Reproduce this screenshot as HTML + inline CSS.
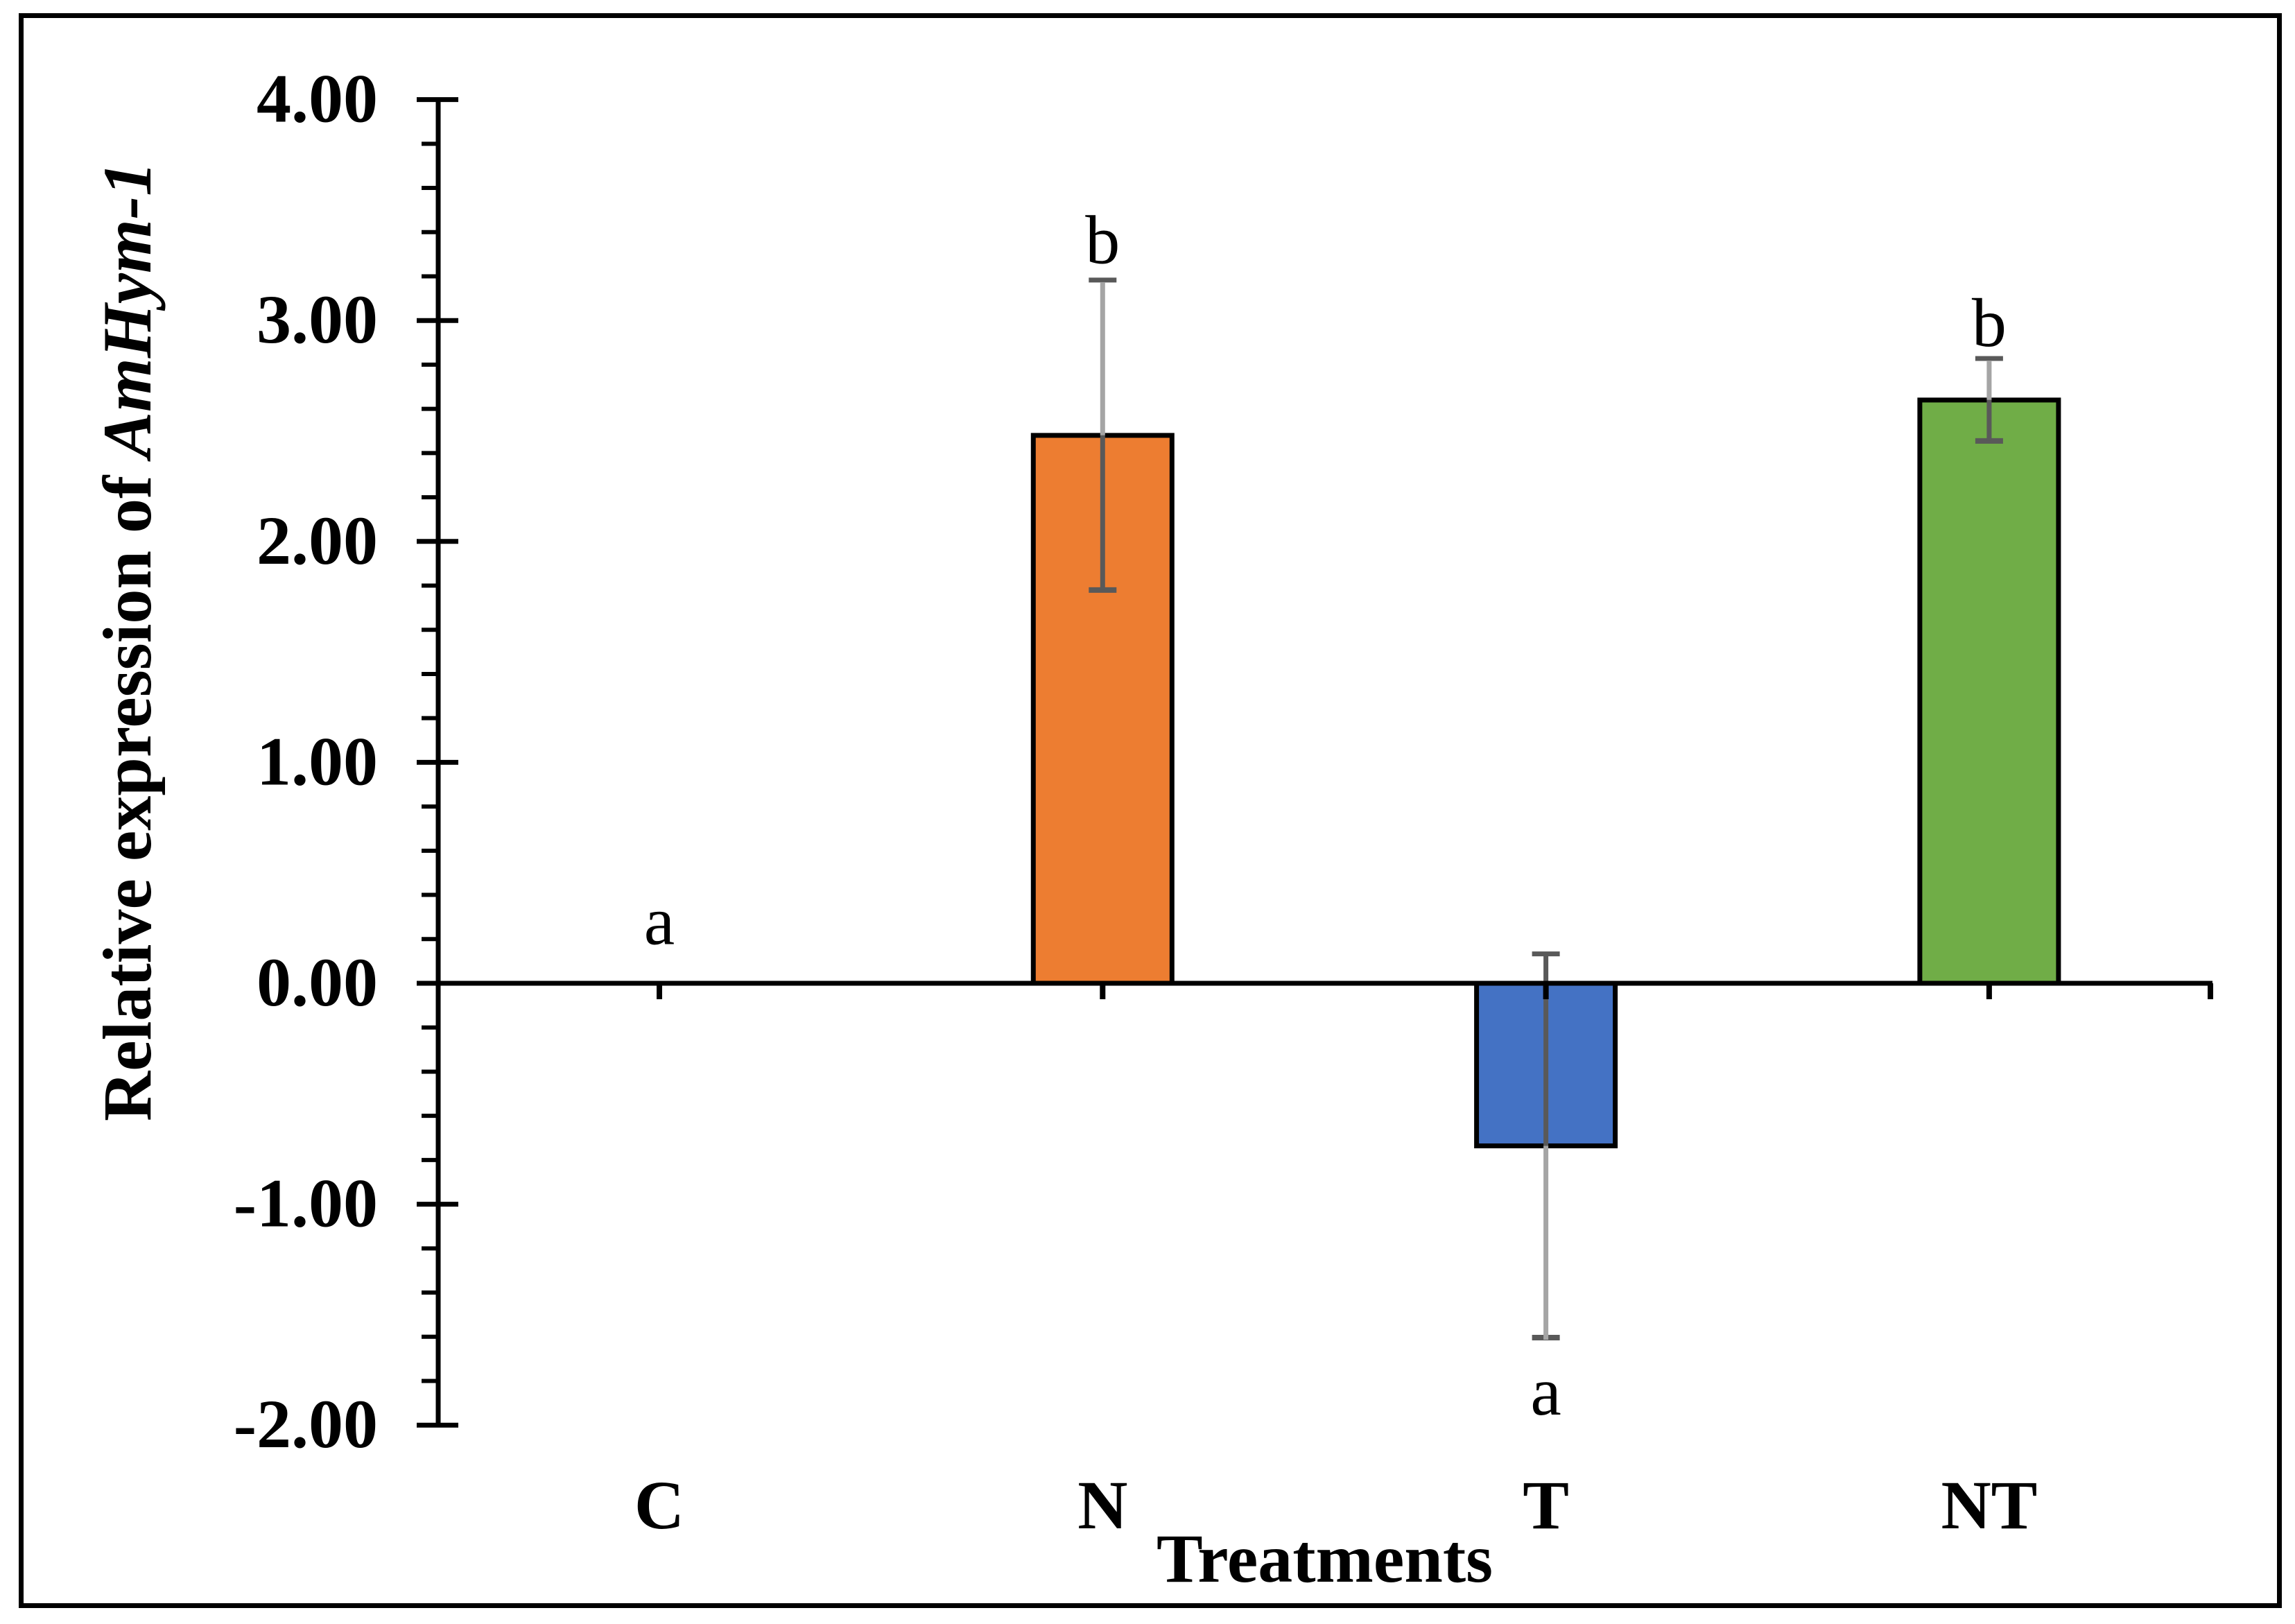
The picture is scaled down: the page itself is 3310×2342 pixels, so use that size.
<!DOCTYPE html>
<html lang="en">
<head>
<meta charset="utf-8">
<title>Relative expression of AmHym-1</title>
<style>
html,body{margin:0;padding:0;background:#fff}
svg{display:block}
text{font-family:"Liberation Serif",serif;font-size:100px;fill:#000}
.b{font-weight:bold}
</style>
</head>
<body>
<svg id="chart" xmlns="http://www.w3.org/2000/svg" width="3310" height="2342" viewBox="0 0 3310 2342">
<rect x="0" y="0" width="3310" height="2342" fill="#ffffff"/>
<rect x="30.5" y="22.5" width="3257" height="2293" fill="none" stroke="#000" stroke-width="7"/>
<g id="bars"></g>
<g id="errors"></g>
<g id="axes"></g>
<g id="labels"></g>
<text class="b" transform="translate(217,1617) rotate(-90)">Relative expression of <tspan font-style="italic">AmHym-1</tspan></text>
<text class="b" x="1668" y="2281">Treatments</text>
</svg>
<script>
const categories = ["C", "N", "T", "NT"];
const values = [0, 2.48, -0.736, 2.64];
const errorHigh = [0, 3.183, 0.133, 2.828];
const errorLow = [0, 1.78, -1.604, 2.455];
const groupLetters = ["a", "b", "a", "b"];
const letterValues = [0.178, 3.26, -1.953, 2.885];
const barColors = ["#ED7D31", "#ED7D31", "#4472C4", "#70AD47"];
const yTickValues = [4, 3, 2, 1, 0, -1, -2];
const yTickLabels = ["4.00", "3.00", "2.00", "1.00", "0.00", "-1.00", "-2.00"];
const yMinorTicks = [3.8, 3.6, 3.4, 3.2, 2.8, 2.6, 2.4, 2.2, 1.8, 1.6, 1.4, 1.2, 0.8, 0.6, 0.4, 0.2, -0.2, -0.4, -0.6, -0.8, -1.2, -1.4, -1.6, -1.8];

const NS = "http://www.w3.org/2000/svg";
function yScale(v) { return 1418 - v * 318.6; }
function xScale(i) { return 951 + i * 639.3; }
function make(tag, parent, attrs, text) {
  const el = document.createElementNS(NS, tag);
  for (const k in attrs) el.setAttribute(k, attrs[k]);
  if (text !== undefined) el.textContent = text;
  parent.appendChild(el);
  return el;
}
const barsG = document.getElementById("bars");
const errG = document.getElementById("errors");
const axesG = document.getElementById("axes");
const labelsG = document.getElementById("labels");
const DARK = "#595959", LIGHT = "#A5A5A5";

categories.forEach(function (cat, i) {
  const cx = xScale(i);
  const top = yScale(Math.max(values[i], 0));
  const bottom = yScale(Math.min(values[i], 0));
  if (values[i] !== 0) {
    const bar = make("rect", barsG, { x: cx - 100, y: top, width: 200, height: bottom - top, fill: barColors[i], stroke: "#000", "stroke-width": 7 });
    
    
  }
  if (errorHigh[i] !== errorLow[i]) {
    const valueY = yScale(values[i]);
    const highY = yScale(errorHigh[i]);
    const lowY = yScale(errorLow[i]);
    const upColor = values[i] >= 0 ? LIGHT : DARK;
    const downColor = values[i] >= 0 ? DARK : LIGHT;
    const capA = make("line", errG, { x1: cx - 20, x2: cx + 20, y1: highY, y2: highY, stroke: DARK, "stroke-width": 7 });
    
    
    const capB = make("line", errG, { x1: cx - 20, x2: cx + 20, y1: lowY, y2: lowY, stroke: DARK, "stroke-width": 8 });
    
    
    const up = make("line", errG, { x1: cx, x2: cx, y1: highY + 3, y2: valueY, stroke: upColor, "stroke-width": 7 });
    
    
    const down = make("line", errG, { x1: cx, x2: cx, y1: valueY, y2: values[i] < 0 ? lowY + 3 : lowY, stroke: downColor, "stroke-width": 7 });
    
    
  }
  const xTick = make("line", axesG, { x1: cx, x2: cx, y1: yScale(0), y2: yScale(0) + 23, stroke: "#000", "stroke-width": 8 });
  
  
  const catLabel = make("text", labelsG, { x: cx, y: 2204, "text-anchor": "middle", class: "b" }, cat);
  
  
  const letter = make("text", labelsG, { x: cx, y: yScale(letterValues[i]), "text-anchor": "middle" }, groupLetters[i]);
  
  
});

const yAxis = make("line", axesG, { x1: 632, x2: 632, y1: yScale(4), y2: yScale(-2), stroke: "#000", "stroke-width": 7 });


const xAxis = make("line", axesG, { x1: 632, x2: 3191, y1: yScale(0), y2: yScale(0), stroke: "#000", "stroke-width": 7 });


const xEnd = make("line", axesG, { x1: 3188, x2: 3188, y1: yScale(0), y2: yScale(0) + 23, stroke: "#000", "stroke-width": 8 });



yTickValues.forEach(function (v, i) {
  const tick = make("line", axesG, { x1: 601, x2: 661, y1: yScale(v), y2: yScale(v), stroke: "#000", "stroke-width": 7 });
  
  
  const lab = make("text", labelsG, { x: 545, y: yScale(v) + 32, "text-anchor": "end", class: "b" }, yTickLabels[i]);
  
  
});
yMinorTicks.forEach(function (v) {
  const tick = make("line", axesG, { x1: 608, x2: 632, y1: yScale(v), y2: yScale(v), stroke: "#000", "stroke-width": 6 });
  
  
});
</script>
</body>
</html>
